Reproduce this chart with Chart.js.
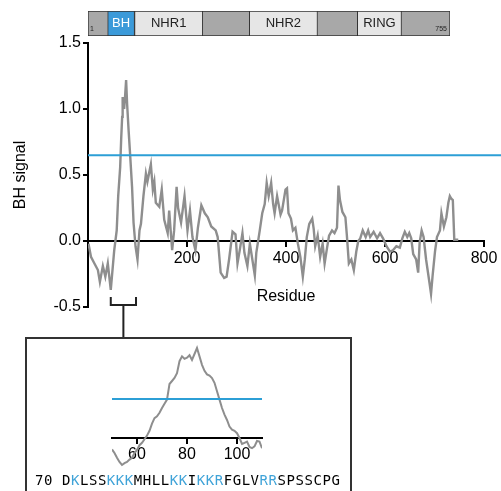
<!DOCTYPE html>
<html>
<head>
<meta charset="utf-8">
<script src="https://cdn.jsdelivr.net/npm/chart.js@4"></script>
<style>
  body { margin: 0; background: #fff; }
  #wrap { position: relative; width: 501px; height: 491px; overflow: hidden; background: #fff; }
  #wrap canvas { position: absolute; left: 0; top: 0; }
  #insetBox { position: absolute; left: 25px; top: 337px; width: 327px; height: 200px; box-sizing: border-box; border: 2px solid #333; }
  #sequence { position: absolute; left: 35px; top: 472px; font: 14px "DejaVu Sans Mono", monospace; letter-spacing: 0.55px; line-height: 17px; color: #000; white-space: pre; }
  #sequence .basic { color: #3fa3d8; }
</style>
</head>
<body>
<div id="wrap">
  <canvas id="domainChart" width="501" height="491"></canvas>
  <canvas id="mainChart" width="501" height="491"></canvas>
  <div id="insetBox"></div>
  <canvas id="insetChart" width="501" height="491"></canvas>
  <div id="sequence"></div>
</div>
<script>
// protein domains
const proteinLength = 755;
const domainNames = ['BH', 'NHR1', 'NHR2', 'RING'];
const domainStart = [42, 98, 337, 562];
const domainEnd = [98, 240, 479, 654];

// BH signal along the whole protein
const residues = [1, 6, 13, 20, 24, 30, 35, 40, 46, 53, 58, 61, 65, 67, 69, 70, 73, 75, 77, 79, 82, 85, 89, 92, 96,
  100, 104, 107, 112, 117, 120, 127, 131, 134, 137, 144, 149, 154, 161, 164, 170, 174, 179, 182, 188, 195,
  201, 206, 211, 217, 222, 229, 236, 242, 249, 258, 262, 268, 275, 280, 285, 292, 298,
  302, 307, 312, 316, 322, 327, 332, 337, 340, 347, 352, 357, 361, 365, 370, 374, 377, 382, 389, 392, 399,
  402, 405, 410, 414, 419, 424, 429, 434, 438, 442, 447, 453, 456, 459, 464, 469, 474, 478, 483, 487, 493, 498,
  503, 506, 509, 514, 520, 523, 527, 532, 537, 542, 546, 550, 555, 561, 566, 570, 577, 584, 590, 596,
  603, 610, 616, 623, 630, 635, 640, 645, 649, 653, 657, 663, 667, 670, 674, 678, 683, 690, 693, 696,
  701, 705, 711, 714, 719, 724, 728, 731, 734, 737, 740, 748];
const signal = [-0.02, -0.12, -0.17, -0.22, -0.31, -0.19, -0.27, -0.17, -0.37, -0.07, 0.08, 0.34, 0.56, 0.77, 0.94, 1.09, 1.00, 1.10, 1.22, 1.04, 0.84, 0.66, 0.41, 0.14, -0.04,
  -0.14, 0.08, 0.13, 0.34, 0.51, 0.45, 0.58, 0.39, 0.45, 0.29, 0.26, 0.39, 0.16, 0.06, 0.23, -0.07, 0.08, 0.41, 0.25, 0.14, 0.34,
  0.08, 0.23, 0.03, -0.07, 0.10, 0.27, 0.21, 0.18, 0.11, 0.08, 0.03, -0.24, -0.28, -0.27, -0.14, 0.07, 0.05,
  -0.17, -0.06, 0.06, -0.09, -0.19, -0.02, -0.14, -0.26, -0.09, 0.08, 0.21, 0.28, 0.44, 0.34, 0.44, 0.28, 0.21, 0.34, 0.20, 0.23, 0.39,
  0.40, 0.21, 0.17, 0.08, 0.10, -0.02, -0.12, -0.27, -0.14, 0.03, 0.13, 0.17, 0.09, -0.04, 0.04, -0.12, -0.02, -0.17, -0.05, 0.04, 0.08, 0.06,
  0.10, 0.42, 0.31, 0.22, 0.18, 0.04, -0.17, -0.14, -0.22, -0.08, 0.00, 0.02, 0.08, 0.03, 0.08, 0.03, 0.07, 0.02, 0.06, 0.02,
  -0.04, -0.08, -0.07, -0.04, -0.05, 0.02, 0.07, 0.03, 0.06, 0.02, -0.10, -0.14, -0.24, -0.01, 0.08, 0.03, -0.14, -0.32, -0.40, -0.27,
  -0.08, 0.03, 0.08, 0.21, 0.11, 0.18, 0.29, 0.34, 0.32, 0.31, 0.01, 0.01];
const threshold = 0.65;
const residueTicks = [200, 400, 600, 800];
const signalTicks = [-0.5, 0, 0.5, 1.0, 1.5];
const bracketRange = [46, 97];

// zoomed view of the BH region
const insetResidues = [50, 51, 52, 53, 54, 55, 56, 57, 58, 59, 60, 61, 62, 63, 64, 65, 66, 67, 68, 69, 70, 71, 72, 73, 74, 75, 76, 77, 78, 79,
  80, 81, 82, 83, 84, 85, 86, 87, 88, 89, 90, 91, 92, 93, 94, 95, 96, 97, 98, 99, 100, 101, 102, 103, 104, 105, 106, 107, 108, 109, 110];
const insetSignal = [-0.19, -0.25, -0.33, -0.40, -0.45, -0.42, -0.40, -0.36, -0.33, -0.25, -0.20, -0.12, -0.08, -0.02, 0.04, 0.12, 0.24, 0.33, 0.36, 0.42,
  0.50, 0.57, 0.64, 0.90, 0.95, 1.00, 1.08, 1.28, 1.36, 1.32, 1.34, 1.38, 1.30, 1.40, 1.50, 1.36, 1.22, 1.12, 1.06, 1.04,
  1.00, 0.92, 0.78, 0.64, 0.50, 0.39, 0.30, 0.19, 0.14, 0.12, 0.08, 0.00, -0.10, -0.08, -0.06, -0.15, -0.17, -0.14, -0.05, -0.06, -0.17];
const insetTicks = [60, 80, 100];
const sequenceStart = 70;
const sequence = 'DKLSSKKKMHLLKKIKKRFGLVRRSPSSCPG';

const lineGray = '#8e8e8e';
const blue = '#2c9fd6';
const fontFamily = '"Liberation Sans", Arial, Helvetica, sans-serif';

// horizontal cut-off line
const thresholdLine = {
    id: 'thresholdLine',
    afterDatasetsDraw(chart, args, opts) {
        const { ctx, chartArea } = chart;
        const y = chart.scales.y.getPixelForValue(opts.value);
        ctx.save();
        ctx.strokeStyle = blue;
        ctx.lineWidth = 2;
        ctx.beginPath();
        ctx.moveTo(chartArea.left, y);
        ctx.lineTo(opts.extend ? chart.width : chartArea.right, y);
        ctx.stroke();
        ctx.restore();
    }
};

// bracket marking the zoomed residues
const bracket = {
    id: 'bracket',
    afterDraw(chart, args, opts) {
        const { ctx, chartArea } = chart;
        const x = chart.scales.x;
        const x1 = x.getPixelForValue(opts.from);
        const x2 = x.getPixelForValue(opts.to);
        const mid = (x1 + x2) / 2;
        const yTop = chartArea.bottom - 10;
        const yBar = chartArea.bottom - 2;
        ctx.save();
        ctx.strokeStyle = '#222';
        ctx.lineWidth = 2;
        ctx.beginPath();
        ctx.moveTo(x1, yTop);
        ctx.lineTo(x1, yBar);
        ctx.lineTo(x2, yBar);
        ctx.lineTo(x2, yTop);
        ctx.moveTo(mid, yBar);
        ctx.lineTo(mid, opts.dropTo);
        ctx.stroke();
        ctx.restore();
    }
};

// names inside the domain boxes
const domainLabels = {
    id: 'domainLabels',
    afterDatasetsDraw(chart) {
        const ctx = chart.ctx;
        const meta = chart.getDatasetMeta(1);
        const x = chart.scales.x;
        const yc = meta.data[0].y;
        ctx.save();
        ctx.textAlign = 'center';
        ctx.textBaseline = 'middle';
        ctx.font = '13px ' + fontFamily;
        meta.data.forEach((bar, i) => {
            ctx.fillStyle = domainNames[i] === 'BH' ? '#fff' : '#222';
            ctx.fillText(domainNames[i], (bar.x + bar.base) / 2, yc);
        });
        ctx.font = '7px ' + fontFamily;
        ctx.fillStyle = '#222';
        ctx.textAlign = 'left';
        ctx.fillText('1', x.getPixelForValue(1) + 2, yc + 6);
        ctx.textAlign = 'right';
        ctx.fillText(String(proteinLength), x.getPixelForValue(proteinLength) - 3, yc + 6);
        ctx.restore();
    }
};

document.addEventListener('DOMContentLoaded', function () {
    Chart.defaults.font.family = fontFamily;
    Chart.defaults.color = '#000';

    // Domain map
    new Chart(document.getElementById('domainChart'), {
        type: 'bar',
        data: {
            labels: ['protein'],
            datasets: [
                {
                    data: [{ y: 'protein', x: [1, proteinLength] }],
                    backgroundColor: '#a8a8a8',
                    borderColor: '#333',
                    borderWidth: 1,
                    borderSkipped: false,
                    order: 2
                },
                {
                    data: domainNames.map((n, i) => ({ y: 'protein', x: [domainStart[i], domainEnd[i]] })),
                    backgroundColor: domainNames.map(n => n === 'BH' ? '#3b9ad9' : '#e6e6e6'),
                    borderColor: '#333',
                    borderWidth: 1,
                    borderSkipped: false,
                    order: 1
                }
            ]
        },
        options: {
            indexAxis: 'y',
            responsive: false,
            animation: false,
            grouped: false,
            barPercentage: 1,
            categoryPercentage: 1,
            layout: { padding: { left: 88, right: 51, top: 11, bottom: 455 } },
            plugins: { legend: { display: false }, tooltip: { enabled: false } },
            scales: {
                x: { type: 'linear', min: 1, max: proteinLength, display: false },
                y: { display: false }
            }
        },
        plugins: [domainLabels]
    });

    // Main chart
    new Chart(document.getElementById('mainChart'), {
        type: 'line',
        data: {
            datasets: [{
                data: residues.map((r, i) => ({ x: r, y: signal[i] })),
                borderColor: lineGray,
                borderWidth: 2.4,
                pointRadius: 0,
                tension: 0
            }]
        },
        options: {
            responsive: false,
            animation: false,
            layout: { padding: { left: 0, right: 17, top: 43, bottom: 184 } },
            plugins: {
                legend: { display: false },
                tooltip: { enabled: false },
                thresholdLine: { value: threshold, extend: true },
                bracket: { from: bracketRange[0], to: bracketRange[1], dropTo: 338 }
            },
            scales: {
                x: {
                    type: 'linear',
                    min: 0,
                    max: 800,
                    position: { y: 0 },
                    z: 1,
                    afterBuildTicks: s => { s.ticks = residueTicks.map(v => ({ value: v })); },
                    grid: { drawOnChartArea: false, tickLength: 5, lineWidth: 2, color: '#000' },
                    border: { color: '#000', width: 2 },
                    ticks: { font: { size: 16 }, padding: 3, maxRotation: 0 },
                    title: { display: true, text: 'Residue', font: { size: 16 }, padding: { top: 16, bottom: 0 } }
                },
                y: {
                    min: -0.5,
                    max: 1.5,
                    afterBuildTicks: s => { s.ticks = signalTicks.map(v => ({ value: v })); },
                    afterFit: s => { s.width = 88; },
                    grid: { drawOnChartArea: false, tickLength: 5, lineWidth: 2, color: '#000' },
                    border: { color: '#000', width: 2 },
                    ticks: { font: { size: 16 }, padding: 2, callback: v => v.toFixed(1) },
                    title: { display: true, text: 'BH signal', font: { size: 16 }, padding: { top: 11, bottom: 0 } }
                }
            }
        },
        plugins: [thresholdLine, bracket]
    });

    // Inset
    new Chart(document.getElementById('insetChart'), {
        type: 'line',
        data: {
            datasets: [{
                data: insetResidues.map((r, i) => ({ x: r, y: insetSignal[i] })),
                borderColor: lineGray,
                borderWidth: 2,
                pointRadius: 0,
                tension: 0
            }]
        },
        options: {
            responsive: false,
            animation: false,
            layout: { padding: { left: 112, right: 239, top: 345, bottom: 23 } },
            plugins: {
                legend: { display: false },
                tooltip: { enabled: false },
                thresholdLine: { value: threshold, extend: false }
            },
            scales: {
                x: {
                    type: 'linear',
                    min: 50,
                    max: 110,
                    position: { y: 0 },
                    z: 1,
                    afterBuildTicks: s => { s.ticks = insetTicks.map(v => ({ value: v })); },
                    grid: { drawOnChartArea: false, tickLength: 5, lineWidth: 2, color: '#000' },
                    border: { color: '#000', width: 2 },
                    ticks: { font: { size: 16 }, padding: 2, maxRotation: 0 }
                },
                y: { display: false, min: -0.5, max: 1.55 }
            }
        },
        plugins: [thresholdLine]
    });

    // Sequence under the inset
    const seq = document.getElementById('sequence');
    seq.appendChild(document.createTextNode(sequenceStart + ' '));
    sequence.split('').forEach(c => {
        const span = document.createElement('span');
        span.textContent = c;
        if (c === 'K' || c === 'R') span.className = 'basic';
        seq.appendChild(span);
    });
});
</script>
</body>
</html>
